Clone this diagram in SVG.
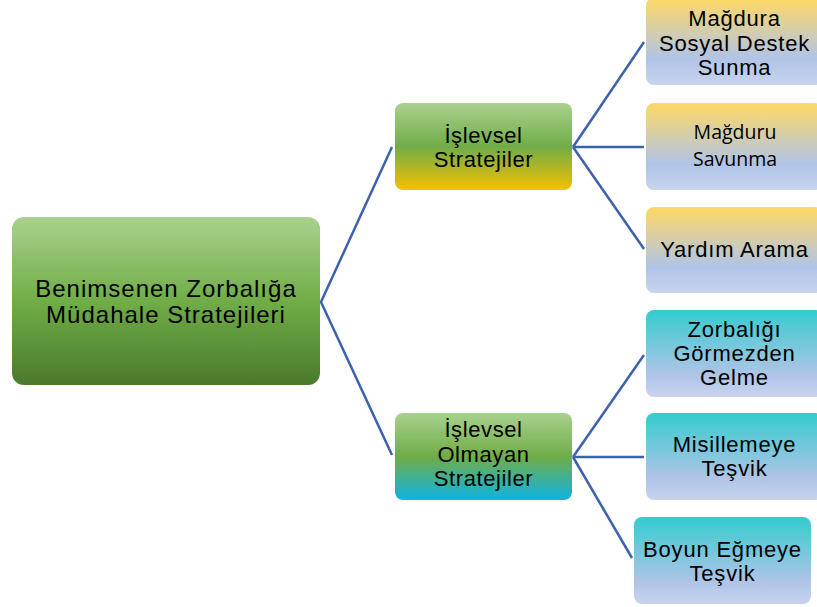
<svg xmlns="http://www.w3.org/2000/svg" width="817" height="607" viewBox="0 0 817 607">
<defs>
<linearGradient id="gRoot" x1="0" y1="0" x2="0" y2="1">
<stop offset="0" stop-color="#a9d18e"/><stop offset="0.5" stop-color="#70ad47"/><stop offset="1" stop-color="#4a7a2c"/>
</linearGradient>
<linearGradient id="gMidY" x1="0" y1="0" x2="0" y2="1">
<stop offset="0" stop-color="#a9d18e"/><stop offset="0.5" stop-color="#70ad47"/><stop offset="1" stop-color="#f5c000"/>
</linearGradient>
<linearGradient id="gMidB" x1="0" y1="0" x2="0" y2="1">
<stop offset="0" stop-color="#a9d18e"/><stop offset="0.5" stop-color="#70ad47"/><stop offset="1" stop-color="#0fb3e3"/>
</linearGradient>
<linearGradient id="gLeafY" x1="0" y1="0" x2="0" y2="1">
<stop offset="0" stop-color="#ffd966"/><stop offset="0.7" stop-color="#b0c4e7"/><stop offset="1" stop-color="#c8d4ee"/>
</linearGradient>
<linearGradient id="gLeafT" x1="0" y1="0" x2="0" y2="1">
<stop offset="0" stop-color="#33cccf"/><stop offset="0.75" stop-color="#b0c4e7"/><stop offset="1" stop-color="#c8d4ee"/>
</linearGradient>
</defs>
<style>
.t{font-family:"Liberation Sans",Arial,sans-serif;fill:#000;text-anchor:middle}
.m{font-family:"Liberation Sans",Arial,sans-serif;fill:#000;text-anchor:middle;font-size:22px;letter-spacing:0.6px}
.c{font-family:"Open Sans","Noto Sans",sans-serif;fill:#000;text-anchor:middle}
.conn{stroke:#3d62ad;stroke-width:2.5;fill:none}
</style>
<g id="connectors">
<polyline class="conn" points="392,147 321,302 392,455"/>
<line class="conn" x1="573" y1="147" x2="644" y2="42"/>
<line class="conn" x1="573" y1="147" x2="644" y2="147"/>
<line class="conn" x1="573" y1="147" x2="644" y2="249"/>
<line class="conn" x1="573" y1="457" x2="644" y2="355"/>
<line class="conn" x1="573" y1="457" x2="644" y2="457"/>
<line class="conn" x1="573" y1="457" x2="632" y2="558"/>
</g>
<g id="root">
<rect x="12" y="217" width="308" height="168" rx="12" fill="url(#gRoot)"/>
<text class="t" font-size="24" letter-spacing="1" x="166" y="297">Benimsenen Zorbalığa</text>
<text class="t" font-size="24" letter-spacing="1" x="166" y="323">Müdahale Stratejileri</text>
</g>
<g id="islevsel">
<rect x="395" y="103" width="177" height="87" rx="8" fill="url(#gMidY)"/>
<text class="m" x="483.5" y="143">İşlevsel</text>
<text class="m" x="483.5" y="167">Stratejiler</text>
</g>
<g id="islevsel-olmayan">
<rect x="395" y="413" width="177" height="87" rx="8" fill="url(#gMidB)"/>
<text class="m" x="483.5" y="437">İşlevsel</text>
<text class="m" x="483.5" y="462">Olmayan</text>
<text class="m" x="483.5" y="486">Stratejiler</text>
</g>
<g id="leaf1">
<rect x="646" y="-2" width="177" height="87" rx="8" fill="url(#gLeafY)"/>
<text class="t" font-size="22" letter-spacing="0.8" x="734.5" y="26">Mağdura</text>
<text class="t" font-size="22" letter-spacing="0.8" x="734.5" y="51">Sosyal Destek</text>
<text class="t" font-size="22" letter-spacing="0.8" x="734.5" y="75">Sunma</text>
</g>
<g id="leaf2">
<rect x="646" y="103" width="177" height="87" rx="8" fill="url(#gLeafY)"/>
<text class="c" font-size="19.5" x="735" y="139">Mağduru</text>
<text class="c" font-size="19.5" x="735" y="166">Savunma</text>
</g>
<g id="leaf3">
<rect x="646" y="207" width="177" height="86" rx="8" fill="url(#gLeafY)"/>
<text class="t" font-size="22" letter-spacing="0.8" x="734.5" y="257">Yardım Arama</text>
</g>
<g id="leaf4">
<rect x="646" y="310" width="177" height="87" rx="8" fill="url(#gLeafT)"/>
<text class="t" font-size="22" letter-spacing="0.8" x="734.5" y="337">Zorbalığı</text>
<text class="t" font-size="22" letter-spacing="0.8" x="734.5" y="361">Görmezden</text>
<text class="t" font-size="22" letter-spacing="0.8" x="734.5" y="385">Gelme</text>
</g>
<g id="leaf5">
<rect x="646" y="413" width="177" height="87" rx="8" fill="url(#gLeafT)"/>
<text class="t" font-size="22" letter-spacing="0.8" x="734.5" y="452">Misillemeye</text>
<text class="t" font-size="22" letter-spacing="0.8" x="734.5" y="476">Teşvik</text>
</g>
<g id="leaf6">
<rect x="634" y="517" width="177" height="87" rx="8" fill="url(#gLeafT)"/>
<text class="t" font-size="22" letter-spacing="0.8" x="722.5" y="557">Boyun Eğmeye</text>
<text class="t" font-size="22" letter-spacing="0.8" x="722.5" y="581">Teşvik</text>
</g>
</svg>
